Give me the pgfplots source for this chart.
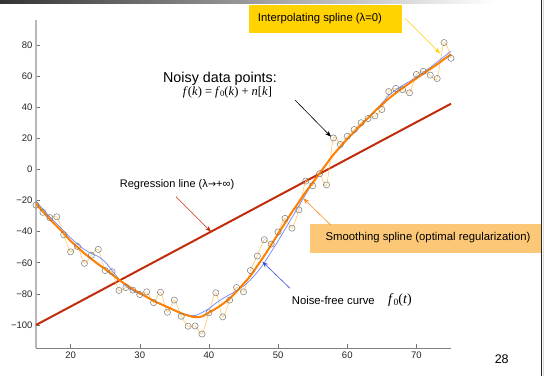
\documentclass[border=0pt]{standalone}
\usepackage{pgfplots}
\pgfplotsset{compat=1.18}
\usepackage{fontspec}
\setmainfont{Liberation Sans}
\newfontfamily\tms{Liberation Serif}
\newfontfamily\djv{DejaVu Sans}
\usetikzlibrary{arrows.meta}
\definecolor{regred}{RGB}{195,44,10}
\definecolor{smorange}{RGB}{255,128,0}
\definecolor{intorange}{RGB}{255,200,100}
\definecolor{nfblue}{RGB}{110,135,255}
\definecolor{ptgray}{RGB}{120,120,120}
\definecolor{boxyellow}{RGB}{255,210,0}
\definecolor{boxorange}{RGB}{252,200,120}
\definecolor{arrblue}{RGB}{60,80,220}
\definecolor{arrorange}{RGB}{255,140,30}

\pgfplotstableread{
x y
15 -23
16 -27.6
17 -31
18 -30.5
19 -42
20 -53
21 -49.5
22 -60.4
23 -55.2
24 -51.4
25 -65
26 -65.8
27 -77.8
28 -75.9
29 -77.6
30 -80.4
31 -78.7
32 -85.6
33 -79
34 -91.8
35 -84
36 -94.4
37 -100.8
38 -100.6
39 -105.8
40 -92.2
41 -79.3
42 -94.8
43 -84
44 -75.9
45 -78.7
46 -65
47 -55.7
48 -45.2
49 -48
50 -40.2
51 -31.5
52 -37.8
53 -26
54 -7.5
55 -10.5
56 -2.8
57 -10
58 20.2
59 16
60 21.3
61 25.6
62 30
63 32.7
64 34.4
65 38.5
66 50
67 52
68 51.2
69 49.2
70 61
71 63
72 60.6
73 58.4
74 81.5
75 71.4
}\noisy

\pgfplotstableread{
x y
15 -22
16 -27
17 -32
18 -36.5
19 -41
20 -46
21 -50
22 -54
23 -57.5
24 -61
25 -64
26 -67.5
27 -71
28 -74
29 -77
30 -79.5
31 -82
32 -84.5
33 -86.5
34 -88.5
35 -90.5
36 -92.5
37 -94
38 -95
39 -94.5
40 -92
41 -89.5
42 -86.5
43 -83
44 -78.5
45 -73.5
46 -68.5
47 -62
48 -55.5
49 -48.5
50 -41.5
51 -34.5
52 -27.5
53 -21
54 -14.5
55 -8.5
56 -2.5
57 3.5
58 9.5
59 14.5
60 19.5
61 24
62 28.5
63 33
64 37.5
65 41.5
66 45.5
67 49
68 52.3
69 55.4
70 58.5
71 61.5
72 64.5
73 67.5
74 70.8
75 74
}\smooth

\pgfplotstableread{
x y
15 -20.5
16 -25.5
17 -30.5
18 -35
19 -39.5
20 -44
21 -48
22 -51.5
23 -54
24 -56
25 -59.5
26 -65
27 -70.5
28 -75
29 -78
30 -80
31 -82
32 -84.5
33 -86.5
34 -88.5
35 -90.5
36 -92.5
37 -93.5
38 -94
39 -92
40 -89.5
41 -86
42 -83
43 -80.5
44 -78
45 -75
46 -71
47 -66
48 -60
49 -53
50 -46
51 -38.5
52 -31
53 -23.5
54 -16
55 -8.5
56 -2.5
57 3.5
58 9.5
59 14.5
60 19.5
61 24
62 28.5
63 33
64 37.5
65 42.5
66 47.5
67 51
68 54
69 56.5
70 59.5
71 62.5
72 65.5
73 69
74 72.5
75 76
}\noisefree

\begin{document}
\begin{tikzpicture}
\path[use as bounding box, fill=white] (0pt,0pt) rectangle (546pt,-376pt);
% slide decorations
\shade[left color=black!80, right color=white] (0pt,0pt) rectangle (495pt,-3pt);
\draw[black!85, line width=1pt] (541.5pt,0pt) -- (541.5pt,-376pt);
\draw[black!15, line width=1.5pt] (543.5pt,0pt) -- (543.5pt,-376pt);

\begin{axis}[
  at={(36pt,-348pt)}, anchor=south west,
  scale only axis, width=415pt, height=328pt,
  xmin=15, xmax=75, ymin=-114.8, ymax=96,
  axis x line*=bottom, axis y line*=left,
  x axis line style={black!50, line width=0.6pt},
  y axis line style={black!28, line width=2pt},
  xtick={20,30,...,70}, ytick={-100,-80,...,80},
  yticklabels={−100,−80,−60,−40,−20,0,20,40,60,80},
  tick align=inside, major tick length=4pt,
  tick style={black!55, line width=0.5pt},
  ticklabel style={font=\fontsize{9.5}{10}\selectfont, text=black!85},
  /pgf/number format/assume math mode=true,
  clip=false,
]
\addplot[regred, line width=2pt] coordinates {(15,-100) (75,42.2)};
\addplot[intorange, line width=0.6pt, smooth, tension=0.45] table[x=x,y=y] {\noisy};
\addplot[nfblue, line width=0.7pt, smooth] table[x=x,y=y] {\noisefree};
\addplot[smorange, line width=2pt, smooth] table[x=x,y=y] {\smooth};
\addplot[only marks, mark=o, mark size=3.1pt, mark options={ptgray, line width=0.5pt}] table[x=x,y=y] {\noisy};
\end{axis}

% boxes
\fill[boxyellow] (248.5pt,-5.3pt) rectangle (402pt,-33.3pt);
\node[font=\fontsize{11.3}{12}\selectfont] at (320pt,-18.5pt) {Interpolating spline (λ=0)};
\fill[boxorange] (310pt,-224.3pt) rectangle (541pt,-252.7pt);
\node[font=\fontsize{11.3}{12}\selectfont] at (428pt,-237.5pt) {Smoothing spline (optimal regularization)};

% texts
\node[font=\fontsize{14.3}{15}\selectfont] at (220pt,-79pt) {Noisy data points:};
\node[font=\tms\fontsize{12.5}{13}\selectfont] at (227.5pt,-92pt) {\itshape f\/\upshape(\itshape k\/\upshape) = \itshape f\/\upshape\raisebox{-0.3ex}{\fontsize{8.5}{9}\selectfont 0}(\itshape k\/\upshape) + \itshape n\upshape[\itshape k\/\upshape]};
\node[font=\fontsize{11}{12}\selectfont] at (177pt,-185pt) {Regression line (λ{\djv\fontsize{10}{12}\selectfont →}+∞)};
\node[font=\fontsize{11.3}{12}\selectfont] at (333.3pt,-300pt) {Noise-free curve};
\node[font=\tms\fontsize{14}{15}\selectfont] at (400pt,-300pt) {\itshape f\/\upshape\raisebox{-0.3ex}{\fontsize{9.5}{10}\selectfont 0}(\itshape t\/\upshape)};
\node[font=\fontsize{12.5}{13}\selectfont] at (501.7pt,-359pt) {28};

% arrows
\draw[boxyellow, line width=0.6pt, -{Stealth[length=6pt,width=4.5pt]}] (405pt,-18.3pt) -- (440pt,-53.3pt);
\draw[black, line width=0.6pt, -{Stealth[length=6pt,width=4.5pt]}] (295pt,-100pt) -- (331pt,-136.7pt);
\draw[regred, line width=0.6pt, -{Stealth[length=6pt,width=4.5pt]}] (176pt,-196.7pt) -- (211pt,-231.7pt);
\draw[arrorange, line width=0.6pt, -{Stealth[length=6pt,width=4.5pt]}] (330.7pt,-225pt) -- (303.3pt,-198.3pt);
\draw[arrblue, line width=0.6pt, -{Stealth[length=6pt,width=4.5pt]}] (290pt,-288.3pt) -- (262.3pt,-261.7pt);
\end{tikzpicture}
\end{document}
